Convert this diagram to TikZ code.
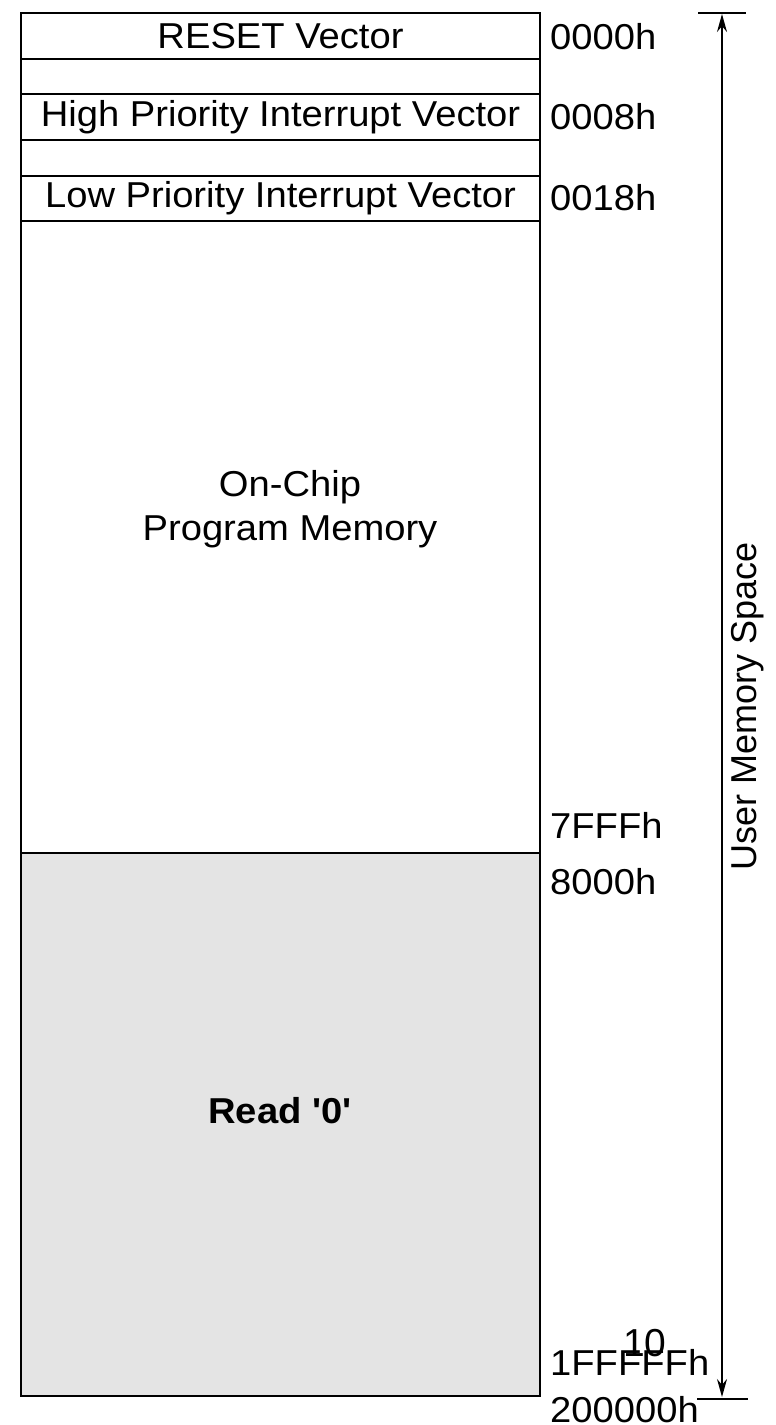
\documentclass[tikz,border=0pt]{standalone}
\usepackage{fontspec}
\newfontfamily\arial[FakeStretch=1.06]{Liberation Sans}
\newfontfamily\arialplain{Liberation Sans}
\usetikzlibrary{arrows.meta}
\definecolor{readgray}{HTML}{E4E4E4}
\begin{document}
\begin{tikzpicture}[x=1pt,y=-1pt,
  mem/.style={draw, line width=1.6pt, minimum width=519pt, inner sep=0pt, outer sep=0pt,
    anchor=north west, font=\arial\fontsize{36}{40}\selectfont},
  addr/.style={anchor=west, inner sep=0pt, font=\arial\fontsize{36}{40}\selectfont},
  dim/.style={line width=1.6pt},
  dimarrow/.style={line width=1.6pt, {Stealth[length=18pt,width=10pt]}-{Stealth[length=18pt,width=10pt]}}]
\useasboundingbox (0,0) rectangle (776,1425);
\node[mem, minimum height=46pt] (reset) at (21,13) {RESET Vector};
\node[mem, minimum height=35pt] (gap1) at (reset.south west) {};
\node[mem, minimum height=46pt] (high) at (gap1.south west) {High Priority Interrupt Vector};
\node[mem, minimum height=36pt] (gap2) at (high.south west) {};
\node[mem, minimum height=45pt] (low) at (gap2.south west) {Low Priority Interrupt Vector};
\node[mem, minimum height=632pt] (onchip) at (low.south west) {};
\node[mem, minimum height=543pt, fill=readgray] (read) at (onchip.south west) {};
\node[font=\arial\fontsize{36}{44}\selectfont, align=center] (onchiptxt) at (290,509) {On-Chip\\Program Memory};
\node[font=\arial\bfseries\fontsize{36}{40}\selectfont] (readtxt) at (280,1111) {Read '0'};
\node[addr] (a0) at (550,37) {0000h};
\node[addr] (a8) at (550,117) {0008h};
\node[addr] (a18) at (550,198) {0018h};
\node[addr] (a7f) at (550,825) {7FFFh};
\node[addr] (a80) at (550,882) {8000h};
\node[addr] (a1f) at (550,1362) {1FFFFFh};
\node[addr] (a20) at (550,1410) {200000h};
\coordinate (tl) at (698,13);
\coordinate (tr) at (746,13);
\coordinate (bl) at (697,1399);
\coordinate (br) at (748,1399);
\coordinate (atop) at (722,14);
\coordinate (abot) at (722,1397);
\draw[dim] (tl) -- (tr);
\draw[dim] (bl) -- (br);
\draw[dimarrow] (atop) -- (abot);
\node[font=\arialplain\fontsize{36}{40}\selectfont, rotate=90] (ums) at (748,706) {User Memory Space};
\node[font=\arialplain\fontsize{39}{40}\selectfont] (pg) at (645,1343) {10};
\end{tikzpicture}
\end{document}
